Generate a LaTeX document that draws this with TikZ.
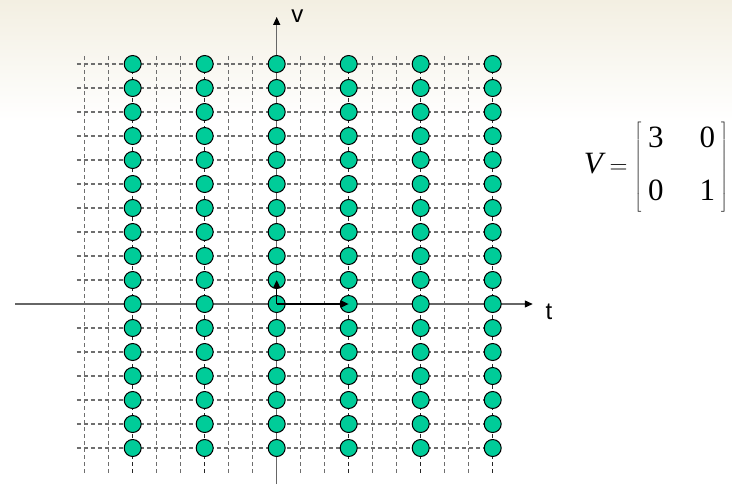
\documentclass[tikz,border=0pt]{standalone}
\usepackage{fontspec}
\setmainfont{Liberation Serif}
\newfontfamily\labelfont{Liberation Sans}
\usetikzlibrary{arrows.meta}
\definecolor{latticegreen}{RGB}{0,204,153}
\definecolor{gridgray}{RGB}{110,110,110}
\definecolor{paper}{RGB}{243,239,226}

\begin{document}
\begin{tikzpicture}[x=24pt,y=-24pt,gridline/.style={gridgray,line width=1.4pt,dash pattern=on 4pt off 3pt},colline/.style={black!85,line width=1.5pt,dash pattern=on 4pt off 3pt},axis/.style={black!60,line width=1.2pt,-{Triangle[length=8pt,width=7pt,color=black]}},point/.style={circle,draw=black,line width=1pt,fill=latticegreen,minimum size=17pt,inner sep=0pt},basis/.style={black,line width=1.6pt,-{Triangle[length=8pt,width=7pt]}},axislabel/.style={font=\labelfont\fontsize{24}{28}\selectfont,anchor=base west,inner sep=0pt}]
\useasboundingbox (-11.529,-12.667) rectangle (18.971,7.5);
\fill[white] (-11.529,-12.667) rectangle (18.971,7.5);
\shade[top color=paper,bottom color=white] (-11.529,-12.667) rectangle (18.971,-7.6);
% grid
\foreach \i in {-8,...,9}
  \draw[gridline] (\i,-10.33) -- (\i,7.04);
\foreach \j in {-10,...,6}
  \draw[gridline] (-8.33,\j) -- (9,\j);
\foreach \i in {-6,-3,...,9}
  \draw[colline] (\i,-10.33) -- (\i,7.04);
% axes
\coordinate (t-start) at (-10.9,0);
\coordinate (t-end) at (10.67,0);
\coordinate (v-start) at (0,7.5);
\coordinate (v-end) at (0,-11.96);
\draw[axis] (t-start) -- (t-end);
\draw[axis] (v-start) -- (v-end);
\node[axislabel] (t-label) at (11.2,0.625) {t};
\node[axislabel] (v-label) at (0.6,-11.75) {v};
% lattice points
\foreach \i in {-6,-3,...,9}
  \foreach \j in {-10,...,6}
    \node[point] (p\i_\j) at (\i,\j) {};
\draw[basis] (p0_0.center) -- (p0_-1.center);
\draw[basis] (p0_0.center) -- (p3_0.center);
% matrix
\node (matrixV) at (15.8,-5.708) {\fontsize{31}{37}\selectfont $\textit{V}=\left[\begin{array}{@{\hspace{7pt}}c@{\hspace{36pt}}c@{\hspace{6pt}}}\mbox{3}&\mbox{0}\\[16pt]\mbox{0}&\mbox{1}\end{array}\right]$};
\end{tikzpicture}
\end{document}
